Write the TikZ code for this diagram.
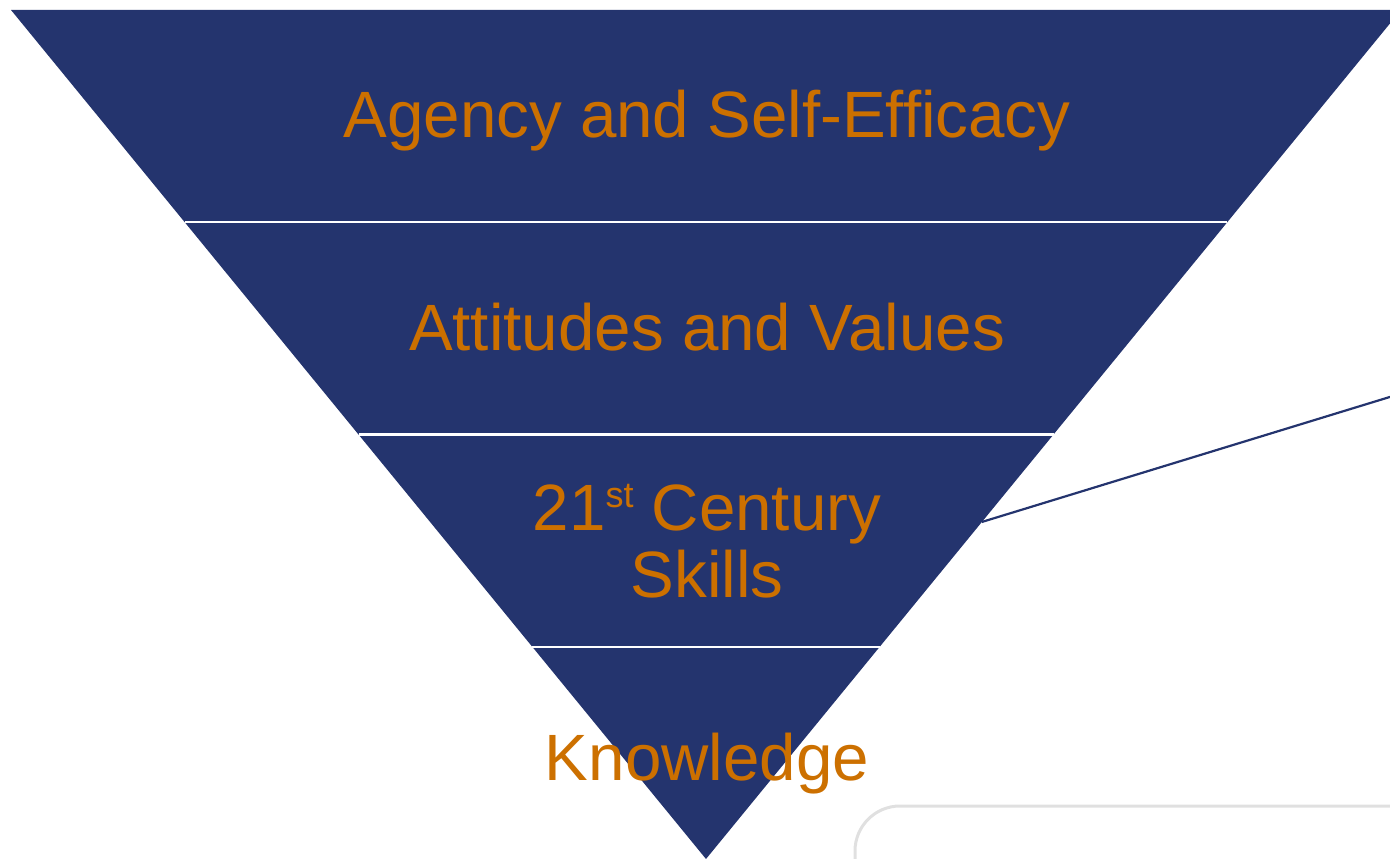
\documentclass[tikz,border=0pt]{standalone}
\usepackage{fontspec}
\setmainfont{Liberation Sans}
\usepackage{xcolor}
\usetikzlibrary{positioning,calc}
\definecolor{navy}{RGB}{36,52,110}
\definecolor{amber}{RGB}{204,112,0}
\tikzset{
    band/.style={fill=navy, draw=none},
    gap/.style={draw=white, line width=2.2pt},
    levelname/.style={
        text=amber, inner sep=0pt, align=center,
        font=\fontsize{65.5}{67}\selectfont
    },
    pointer/.style={draw=navy, line width=2.2pt},
    callout/.style={draw=black!12, line width=3pt, rounded corners=45pt}
}
\newcommand{\ordsup}[1]{\raisebox{23pt}{\fontsize{36}{36}\selectfont #1}}

\begin{document}
\begin{tikzpicture}[x=1pt, y=-1pt]
\useasboundingbox (0,0) rectangle (1390,859);

%% Corners of the inverted triangle
\coordinate (tl)    at (11, 10);
\coordinate (tr)    at (1401, 10);
\coordinate (apex)  at (706, 859);

%% Filled triangle, split into four bands by white gaps
\fill[band] (tl) -- (tr) -- (apex) -- cycle;
\foreach \t in {0.25, 0.5, 0.75}
    \draw[gap] ($(tl)!\t!(apex)$) -- ($(tr)!\t!(apex)$);

%% Band texts
\node[levelname, anchor=base] (agency)    at (707, 137) {Agency and Self-Efficacy};
\node[levelname, anchor=base] (attitudes) at (707, 350) {Attitudes and Values};
\node[levelname, anchor=base] (skills)    at (707, 597) {21\ordsup{st} Century\\Skills};
\node[levelname, anchor=base] (knowledge) at (707, 780) {Knowledge};

%% Pointer from the skills band towards the right
\coordinate (skillsedge) at ($(tr)!0.603!(apex)$);
\coordinate (farright)   at (1393, 396);
\draw[pointer] (skillsedge) -- (farright);

%% Callout box, cut by the page edge
\draw[callout] (855, 806) rectangle (1480, 960);

\end{tikzpicture}
\end{document}
